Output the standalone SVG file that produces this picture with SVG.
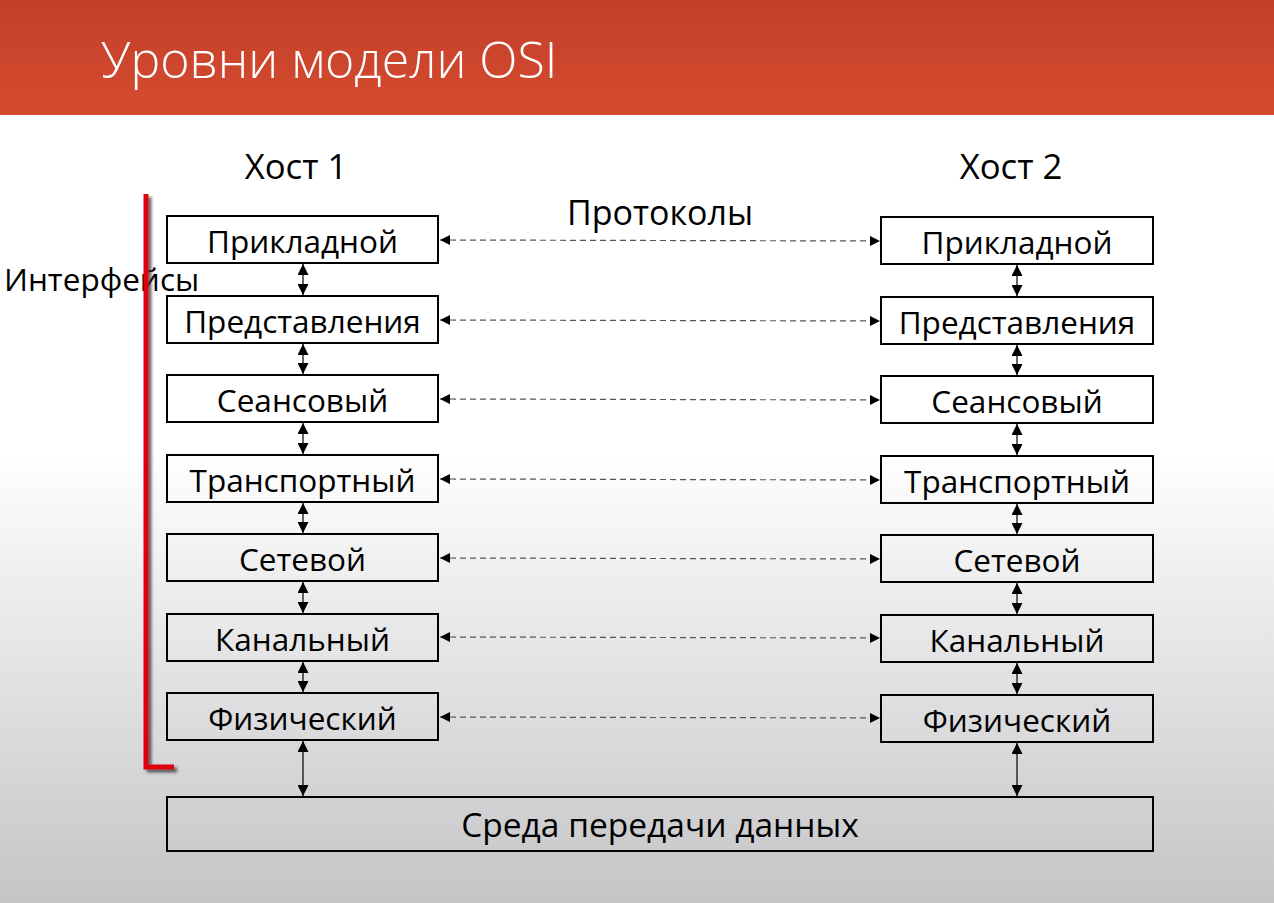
<svg xmlns="http://www.w3.org/2000/svg" width="1274" height="903" viewBox="0 0 1274 903">
  <defs>
    <linearGradient id="bg" x1="0" y1="0" x2="0" y2="1">
      <stop offset="0" stop-color="#ffffff"/>
      <stop offset="0.5" stop-color="#ffffff"/>
      <stop offset="1" stop-color="#c5c4c7"/>
    </linearGradient>
    <linearGradient id="head" x1="0" y1="0" x2="0" y2="1">
      <stop offset="0" stop-color="#c2402a"/>
      <stop offset="1" stop-color="#d54b2f"/>
    </linearGradient>
    <filter id="shadow" x="-50%" y="-10%" width="200%" height="120%">
      <feDropShadow dx="3" dy="3" stdDeviation="1.5" flood-color="#333" flood-opacity="0.75"/>
    </filter>
    <marker id="ah" viewBox="0 0 10 10" refX="10" refY="5" markerWidth="10" markerHeight="10" markerUnits="userSpaceOnUse" orient="auto-start-reverse">
      <path d="M0,0 L10,5 L0,10 Z" fill="#000"/>
    </marker>
    <marker id="ahv" viewBox="0 0 10 10" refX="10" refY="5" markerWidth="11" markerHeight="11" markerUnits="userSpaceOnUse" orient="auto-start-reverse">
      <path d="M0,0 L10,5 L0,10 Z" fill="#000"/>
    </marker>
  </defs>
  <style>
    .box { fill: none; stroke: #000; stroke-width: 2; }
    .lbl { font-family: "Open Sans", "Liberation Sans", sans-serif; font-size: 31.5px; fill: #000; text-anchor: middle; }
    .cap { font-family: "Open Sans", "Liberation Sans", sans-serif; font-size: 33px; fill: #000; }
    .proto { stroke: #555; stroke-width: 1.2; stroke-dasharray: 6 4; fill: none; marker-start: url(#ah); marker-end: url(#ah); }
    .iface { stroke: #000; stroke-width: 1.2; fill: none; marker-start: url(#ahv); marker-end: url(#ahv); }
  </style>

  <!-- slide background and title band -->
  <rect x="0" y="0" width="1274" height="903" fill="url(#bg)"/>
  <rect x="0" y="0" width="1274" height="115" fill="url(#head)"/>
  <text x="101" y="78" font-family="Open Sans, Liberation Sans, sans-serif" font-weight="300" font-size="50" fill="#fff">Уровни модели OSI</text>

  <!-- column captions -->
  <text class="cap" x="296" y="179" text-anchor="middle" style="font-size:34.7px">Хост 1</text>
  <text class="cap" x="1011" y="179" text-anchor="middle" style="font-size:34.7px">Хост 2</text>
  <text class="cap" x="660" y="225" text-anchor="middle" style="font-size:34px">Протоколы</text>
  <text class="cap" x="4" y="291" style="font-size:31.5px">Интерфейсы</text>

  <!-- interface bracket -->
  <path d="M146,194 V767 H174" fill="none" stroke="#e0000f" stroke-width="5" filter="url(#shadow)"/>

  <!-- host 1 stack -->
  <g id="h1-app"><rect class="box" x="167" y="216" width="271" height="47"/><text class="lbl" x="302.5" y="253">Прикладной</text></g>
  <g id="h1-pres"><rect class="box" x="167" y="296" width="271" height="47"/><text class="lbl" x="302.5" y="333">Представления</text></g>
  <g id="h1-sess"><rect class="box" x="167" y="375" width="271" height="47"/><text class="lbl" x="302.5" y="412">Сеансовый</text></g>
  <g id="h1-trans"><rect class="box" x="167" y="455" width="271" height="47"/><text class="lbl" x="302.5" y="492">Транспортный</text></g>
  <g id="h1-net"><rect class="box" x="167" y="534" width="271" height="47"/><text class="lbl" x="302.5" y="571">Сетевой</text></g>
  <g id="h1-link"><rect class="box" x="167" y="614" width="271" height="47"/><text class="lbl" x="302.5" y="651">Канальный</text></g>
  <g id="h1-phys"><rect class="box" x="167" y="693" width="271" height="47"/><text class="lbl" x="302.5" y="730">Физический</text></g>

  <!-- host 2 stack -->
  <g id="h2-app"><rect class="box" x="881" y="217" width="272" height="47"/><text class="lbl" x="1017" y="254">Прикладной</text></g>
  <g id="h2-pres"><rect class="box" x="881" y="297" width="272" height="47"/><text class="lbl" x="1017" y="334">Представления</text></g>
  <g id="h2-sess"><rect class="box" x="881" y="376" width="272" height="47"/><text class="lbl" x="1017" y="413">Сеансовый</text></g>
  <g id="h2-trans"><rect class="box" x="881" y="456" width="272" height="47"/><text class="lbl" x="1017" y="493">Транспортный</text></g>
  <g id="h2-net"><rect class="box" x="881" y="535" width="272" height="47"/><text class="lbl" x="1017" y="572">Сетевой</text></g>
  <g id="h2-link"><rect class="box" x="881" y="615" width="272" height="47"/><text class="lbl" x="1017" y="652">Канальный</text></g>
  <g id="h2-phys"><rect class="box" x="881" y="695" width="272" height="47"/><text class="lbl" x="1017" y="732">Физический</text></g>

  <!-- shared medium -->
  <g id="medium"><rect class="box" x="167" y="797" width="986" height="54"/><text class="lbl" x="660" y="837" style="font-size:33.5px">Среда передачи данных</text></g>

  <!-- connectors -->
  <g id="connectors">
    <!-- peer protocols -->
    <line class="proto" x1="440" y1="240" x2="880" y2="241"/>
    <line class="proto" x1="440" y1="320" x2="880" y2="321"/>
    <line class="proto" x1="440" y1="399" x2="880" y2="400"/>
    <line class="proto" x1="440" y1="479" x2="880" y2="480"/>
    <line class="proto" x1="440" y1="558" x2="880" y2="559"/>
    <line class="proto" x1="440" y1="637" x2="880" y2="638"/>
    <line class="proto" x1="440" y1="717" x2="880" y2="718"/>
    <!-- host 1 interfaces -->
    <line class="iface" x1="303" y1="264" x2="303" y2="295"/>
    <line class="iface" x1="303" y1="344" x2="303" y2="374"/>
    <line class="iface" x1="303" y1="423" x2="303" y2="454"/>
    <line class="iface" x1="303" y1="503" x2="303" y2="533"/>
    <line class="iface" x1="303" y1="582" x2="303" y2="613"/>
    <line class="iface" x1="303" y1="662" x2="303" y2="692"/>
    <line class="iface" x1="303" y1="741" x2="303" y2="796"/>
    <!-- host 2 interfaces -->
    <line class="iface" x1="1017" y1="265" x2="1017" y2="296"/>
    <line class="iface" x1="1017" y1="345" x2="1017" y2="375"/>
    <line class="iface" x1="1017" y1="424" x2="1017" y2="455"/>
    <line class="iface" x1="1017" y1="504" x2="1017" y2="534"/>
    <line class="iface" x1="1017" y1="583" x2="1017" y2="614"/>
    <line class="iface" x1="1017" y1="663" x2="1017" y2="694"/>
    <line class="iface" x1="1017" y1="743" x2="1017" y2="796"/>
  </g>
</svg>
